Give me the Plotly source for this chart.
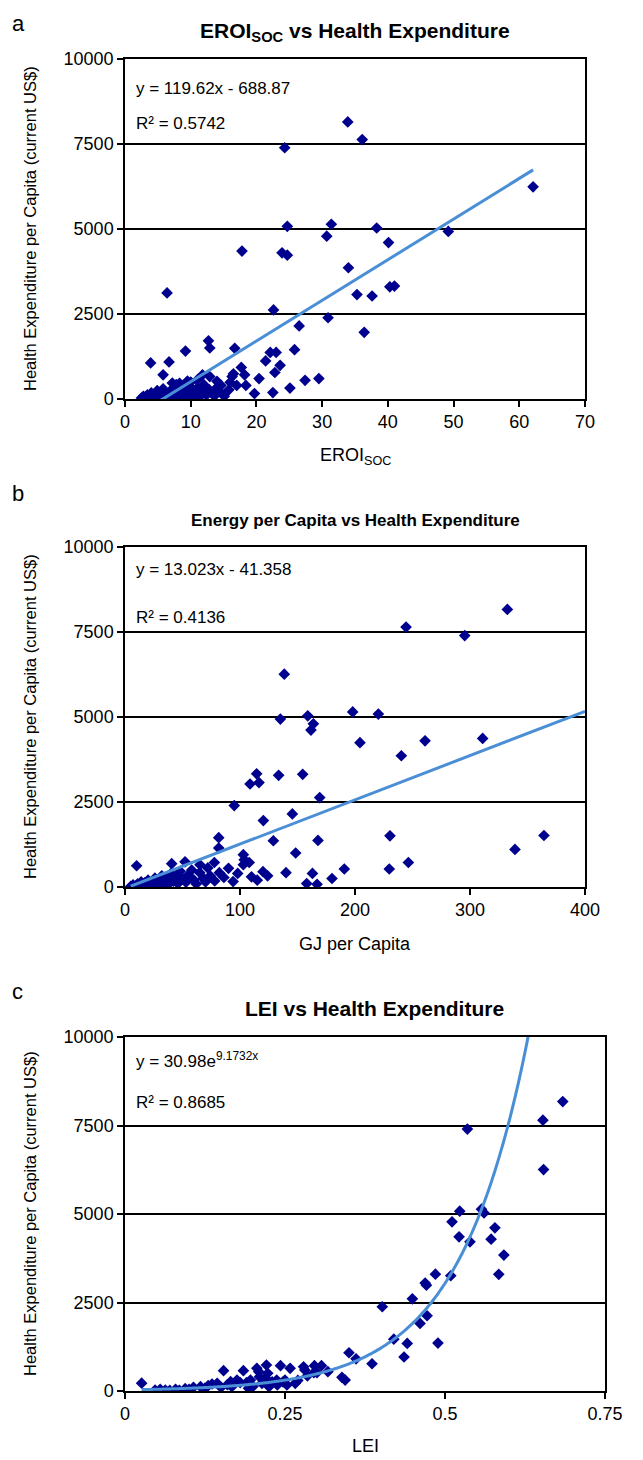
import numpy as np
import plotly.graph_objects as go

# page body has an 8px margin, so the figure is drawn 8px smaller and everything is offset
OFF = 8
W, H = 643 - OFF, 1460 - OFF

# Panel a: EROI_soc vs health expenditure
eroi_x = [33.9, 36.1, 24.3, 24.7, 31.4, 30.7, 38.3, 17.8, 23.9, 24.7, 34.0, 6.4, 35.3, 37.6,
          22.6, 30.9, 26.5, 36.4, 12.7, 12.9, 9.2, 16.7, 3.9, 6.7, 22.1, 23.0, 25.8, 21.4,
          23.6, 22.8, 5.8, 17.7, 16.5, 16.3, 18.2, 18.4, 17.0, 20.4, 27.4, 29.5, 25.1, 22.5,
          19.7, 15.1, 11.8, 12.9, 14.0, 14.6, 15.8, 16.0, 7.2, 7.8, 8.3, 8.5, 40.1, 40.3,
          41.0, 49.2, 62.1,
          2.5, 2.8, 3.1, 3.4, 3.7, 4.0, 4.3, 4.6, 4.9, 5.2, 5.5, 5.8, 6.1, 6.4, 6.7, 7.0,
          7.4, 7.7, 8.0, 8.3, 8.6, 8.9, 9.2, 9.5, 9.8, 10.1, 10.4, 10.7, 11.0, 11.3, 11.6,
          12.0, 12.4, 12.8, 13.2, 13.6, 14.0, 14.4, 10.0, 9.5, 11.0]
eroi_y = [8150, 7630, 7390, 5080, 5140, 4790, 5030, 4350, 4300, 4230, 3860, 3120, 3070, 3030,
          2620, 2390, 2150, 1960, 1710, 1500, 1410, 1490, 1060, 1090, 1370, 1370, 1450, 1120,
          990, 780, 710, 930, 740, 660, 710, 400, 400, 600, 550, 600, 320, 190,
          160, 80, 710, 660, 520, 400, 270, 490, 470, 420, 460, 380, 4600, 3300,
          3320, 4930, 6240,
          30, 80, 20, 120, 50, 180, 90, 30, 250, 140, 60, 300, 190, 40, 110, 260,
          150, 70, 330, 200, 100, 40, 280, 160, 380, 90, 230, 140, 320, 60, 200,
          420, 120, 280, 180, 90, 340, 220, 500, 530, 560]
eroi_fit = (119.62, -688.87)

# Panel b: GJ per capita vs health expenditure
gj_x = [138.5, 135.1, 158.9, 163.8, 161.7, 198, 220.3, 204.3, 114.5, 108.7, 116.5, 133.6,
        154.5, 95.0, 169.3, 120.3, 145.5, 81.5, 129, 167.8, 81.5, 148.4, 102.9, 103.7, 108,
        102.9, 77.7, 65.2, 52.2, 40.6, 10.1, 332.5, 244.4, 295.4, 240.3, 260.9, 311, 230.4,
        339.1, 364.3, 246.4, 229.8, 190.7,
        5, 7, 9, 11, 12, 14, 15, 17, 18, 20, 21, 23, 24, 26, 27, 29, 30, 32, 34, 36, 38, 40,
        42, 44, 46, 48, 50, 53, 55, 58, 60, 62, 65, 68, 70, 72, 74, 78, 82, 86, 90, 94, 98,
        110, 115, 120, 124, 140, 158, 163, 167, 180]
gj_y = [6260, 4940, 5035, 4800, 4615, 5150, 5085, 4245, 3330, 3030, 3070, 3285,
        3315, 2395, 2630, 1955, 2150, 1450, 1360, 1370, 1145, 1000, 950, 800, 720,
        655, 720, 655, 740, 685, 625, 8165, 7645, 7395, 3860, 4300, 4370, 1505,
        1105, 1515, 720, 530, 530,
        20, 60, 30, 90, 10, 150, 50, 120, 30, 200, 80, 140, 40, 260, 110, 180, 60, 330, 130,
        220, 90, 400, 170, 280, 100, 460, 230, 140, 350, 500, 200, 90, 420, 260, 150, 560,
        330, 180, 420, 280, 550, 160, 400, 300, 200, 450, 330, 420, 100, 400, 80, 250]
gj_fit = (13.023, -41.358)

# Panel c: LEI vs health expenditure
lei_x = [0.684, 0.653, 0.535, 0.654, 0.523, 0.511, 0.557, 0.561, 0.578, 0.522, 0.539, 0.572,
         0.592, 0.584, 0.509, 0.485, 0.469, 0.471, 0.449, 0.402, 0.472, 0.461, 0.420, 0.441,
         0.489, 0.436, 0.350, 0.361, 0.386, 0.339, 0.344, 0.026,
         0.154, 0.185, 0.206, 0.209, 0.221, 0.223, 0.220, 0.243, 0.258, 0.279, 0.281, 0.296,
         0.307, 0.295, 0.317, 0.237, 0.247, 0.047, 0.063, 0.079, 0.094, 0.107, 0.118, 0.136,
         0.144, 0.165, 0.175, 0.180, 0.196, 0.167, 0.214, 0.225, 0.238, 0.250, 0.253, 0.266,
         0.193, 0.055, 0.070, 0.085, 0.100, 0.125, 0.130, 0.150, 0.160, 0.190, 0.200, 0.210,
         0.230, 0.270, 0.285, 0.300]
lei_y = [8175, 7650, 7400, 6255, 5080, 4780, 5135, 5030, 4610, 4355, 4215, 4290,
         3840, 3295, 3255, 3300, 3050, 2990, 2605, 2380, 2125, 1910, 1465, 1345,
         1355, 960, 1080, 910, 770, 385, 310, 220,
         575, 575, 640, 545, 735, 500, 360, 715, 640, 685, 595, 715,
         715, 515, 545, 310, 260, 28, 28, 47, 66, 104, 122, 198,
         217, 263, 310, 234, 310, 122, 217, 122, 170, 310, 170, 217,
         76, 50, 15, 20, 45, 80, 150, 100, 180, 240, 130, 400,
         260, 300, 430, 520]
lei_fit = (30.98, 9.1732)

y_ticks = [0, 2500, 5000, 7500, 10000]

MARKER = "#00008f"
TREND = "#4a8fd6"
FONT = "Liberation Sans, Arial, sans-serif"


def fx(px):
    return (px - OFF) / W


def fy(py):
    return 1 - (py - OFF) / H


fig = go.Figure()

# a
fig.add_trace(go.Scatter(x=eroi_x, y=eroi_y, mode="markers", xaxis="x", yaxis="y",
                         marker=dict(symbol="diamond", size=9, color=MARKER)))
xa = np.linspace(min(eroi_x), max(eroi_x), 50)
fig.add_trace(go.Scatter(x=xa, y=eroi_fit[0] * xa + eroi_fit[1], mode="lines", xaxis="x", yaxis="y",
                         line=dict(color=TREND, width=3)))
# b
fig.add_trace(go.Scatter(x=gj_x, y=gj_y, mode="markers", xaxis="x2", yaxis="y2",
                         marker=dict(symbol="diamond", size=9, color=MARKER)))
xb = np.linspace(min(gj_x), 400, 50)
fig.add_trace(go.Scatter(x=xb, y=gj_fit[0] * xb + gj_fit[1], mode="lines", xaxis="x2", yaxis="y2",
                         line=dict(color=TREND, width=3)))
# c
fig.add_trace(go.Scatter(x=lei_x, y=lei_y, mode="markers", xaxis="x3", yaxis="y3",
                         marker=dict(symbol="diamond", size=9, color=MARKER)))
xc = np.linspace(min(lei_x), max(lei_x), 200)
fig.add_trace(go.Scatter(x=xc, y=lei_fit[0] * np.exp(lei_fit[1] * xc), mode="lines", xaxis="x3", yaxis="y3",
                         line=dict(color=TREND, width=3, shape="spline")))


def xaxis(dom, rng, dtick, anchor):
    return dict(domain=dom, range=rng, dtick=dtick, tick0=0, anchor=anchor, automargin=False,
                showgrid=False, zeroline=False, showline=True, mirror=True,
                linecolor="black", linewidth=1.5, ticks="outside", ticklen=6,
                tickcolor="black", tickwidth=1.5,
                tickfont=dict(size=18, color="black"))


def yaxis(dom, anchor):
    return dict(domain=dom, range=[0, 10000], tickvals=y_ticks, tickformat="d", anchor=anchor,
                automargin=False, showgrid=True, gridcolor="black", gridwidth=1.5, zeroline=False,
                showline=True, mirror=True, linecolor="black", linewidth=1.5,
                ticks="outside", ticklen=6, tickcolor="black", tickwidth=1.5,
                tickfont=dict(size=18, color="black"))


fig.update_layout(
    width=W, height=H,
    margin=dict(l=0, r=0, t=0, b=0),
    paper_bgcolor="white", plot_bgcolor="white",
    showlegend=False,
    font=dict(family=FONT, color="black"),
    xaxis=xaxis([fx(125), fx(585)], [0, 70], 10, "y"),
    yaxis=yaxis([fy(399), fy(59)], "x"),
    xaxis2=xaxis([fx(125), fx(585)], [0, 400], 100, "y2"),
    yaxis2=yaxis([fy(887), fy(547)], "x2"),
    xaxis3=xaxis([fx(125), fx(605)], [0, 0.75], 0.25, "y3"),
    yaxis3=yaxis([fy(1391), fy(1037)], "x3"),
)

YTITLE = "Health Expenditure per Capita (current US$)"
notes = [
    ("a", 10, 23, 22, "left", 0),
    ("b", 10, 493, 22, "left", 0),
    ("c", 10, 991, 22, "left", 0),
    ("<b>EROI<sub>SOC</sub> vs Health Expenditure</b>", 355, 32, 21, "center", 0),
    ("<b>Energy per Capita vs Health Expenditure</b>", 355, 520, 17, "center", 0),
    ("<b>LEI vs Health Expenditure</b>", 375, 1008, 21, "center", 0),
    ("y = 119.62x - 688.87", 134, 88, 17, "left", 0),
    ("R² = 0.5742", 134, 123, 17, "left", 0),
    ("y = 13.023x - 41.358", 134, 569, 17, "left", 0),
    ("R² = 0.4136", 134, 617, 17, "left", 0),
    ("y = 30.98e<sup>9.1732x</sup>", 134, 1060, 17, "left", 0),
    ("R² = 0.8685", 134, 1102, 17, "left", 0),
    ("EROI<sub>SOC</sub>", 355, 456, 18, "center", 0),
    ("GJ per Capita", 355, 944, 18, "center", 0),
    ("LEI", 365, 1446, 18, "center", 0),
    (YTITLE, 30, 229, 16.5, "center", -90),
    (YTITLE, 30, 717, 16.5, "center", -90),
    (YTITLE, 30, 1214, 16.5, "center", -90),
]
for text, x, y, size, align, ang in notes:
    fig.add_annotation(text=text, x=fx(x), y=fy(y), xref="paper", yref="paper",
                       xanchor=align, yanchor="middle", showarrow=False, textangle=ang,
                       font=dict(size=size, color="black", family=FONT))

fig.write_html("out.html")
